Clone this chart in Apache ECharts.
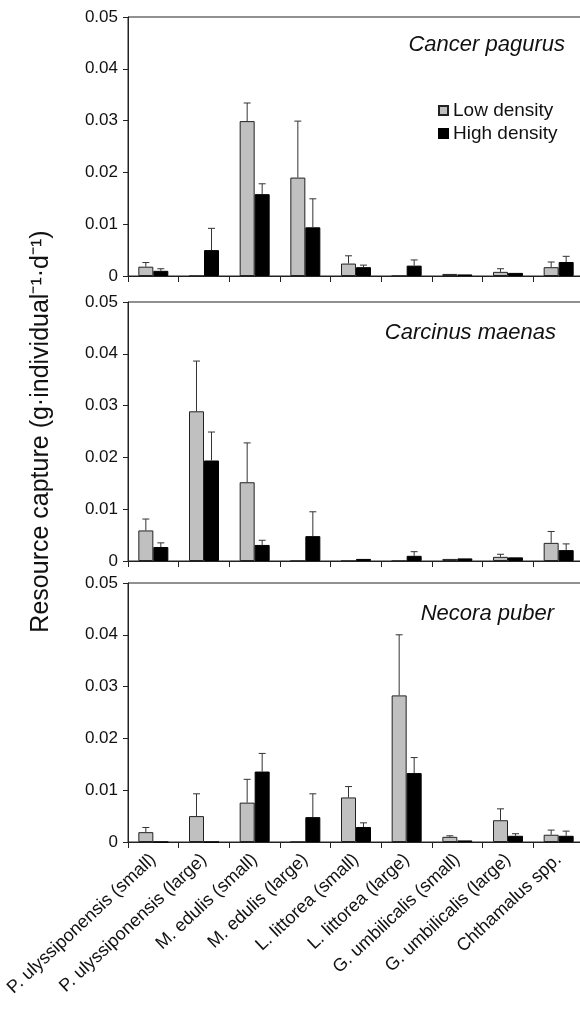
<!DOCTYPE html>
<html>
<head>
<meta charset="utf-8">
<script src="https://cdn.jsdelivr.net/npm/echarts@6/dist/echarts.min.js"></script>
<style>
  html, body { margin: 0; padding: 0; background: #fff; }
  #container { width: 580px; height: 1012px; }
</style>
</head>
<body>
<div id="container"></div>
<script>
// prey categories on the x axis
const categories = ['P. ulyssiponensis (small)', 'P. ulyssiponensis (large)', 'M. edulis (small)', 'M. edulis (large)',
    'L. littorea (small)', 'L. littorea (large)', 'G. umbilicalis (small)', 'G. umbilicalis (large)', 'Chthamalus spp.'];
const yTicks = [0, 0.01, 0.02, 0.03, 0.04, 0.05];

// Cancer pagurus (means and top of error bar)
const cpLow = [0.0018, 0, 0.0299, 0.0190, 0.0024, 0, 0.0004, 0.0008, 0.0017];
const cpLowUpper = [0.0026, null, 0.0334, 0.0299, 0.0039, null, null, 0.0014, 0.0027];
const cpHigh = [0.0010, 0.0050, 0.0158, 0.0094, 0.0017, 0.0020, 0.0003, 0.0006, 0.0027];
const cpHighUpper = [0.0014, 0.0092, 0.0178, 0.0149, 0.0021, 0.0031, null, null, 0.0038];

// Carcinus maenas
const cmLow = [0.0059, 0.0289, 0.0152, 0, 0, 0, 0.0004, 0.0008, 0.0035];
const cmLowUpper = [0.0081, 0.0386, 0.0228, null, null, null, null, 0.0013, 0.0057];
const cmHigh = [0.0027, 0.0194, 0.0031, 0.0048, 0.0004, 0.0010, 0.0005, 0.0007, 0.0021];
const cmHighUpper = [0.0035, 0.0249, 0.0040, 0.0095, null, 0.0018, null, null, 0.0033];

// Necora puber
const npLow = [0.0019, 0.0050, 0.0076, 0, 0.0086, 0.0283, 0.0010, 0.0042, 0.0014];
const npLowUpper = [0.0028, 0.0093, 0.0121, null, 0.0107, 0.0400, 0.0012, 0.0064, 0.0023];
const npHigh = [0, 0, 0.0136, 0.0048, 0.0029, 0.0133, 0.0003, 0.0012, 0.0012];
const npHighUpper = [null, null, 0.0171, 0.0093, 0.0037, 0.0163, null, 0.0016, 0.0021];

const panels = [
    { name: 'Cancer pagurus', low: cpLow, lowUp: cpLowUpper, high: cpHigh, highUp: cpHighUpper, top: 17, titleRight: 10, titleTop: 29 },
    { name: 'Carcinus maenas', low: cmLow, lowUp: cmLowUpper, high: cmHigh, highUp: cmHighUpper, top: 302, titleRight: 19, titleTop: 317 },
    { name: 'Necora puber', low: npLow, lowUp: npLowUpper, high: npHigh, highUp: npHighUpper, top: 583, titleRight: 21, titleTop: 598 }
];

const FONT = "'Liberation Sans', Arial, sans-serif";
const BAR_W = 15;

// error bar: vertical line from the bar top up to the upper value, with a small cap
const errorBar = (offset) => function (params, api) {
    const i = api.value(0);
    const base = api.coord([i, api.value(1)]);
    const top = api.coord([i, api.value(2)]);
    const x = base[0] + offset;
    const style = { stroke: '#333', lineWidth: 1 };
    return {
        type: 'group',
        children: [
            { type: 'line', shape: { x1: x, y1: base[1], x2: x, y2: top[1] }, style: style },
            { type: 'line', shape: { x1: x - 3.5, y1: top[1], x2: x + 3.5, y2: top[1] }, style: style }
        ]
    };
};
const errData = (vals, ups) => vals.map((v, i) => [i, v, ups[i]]).filter(d => d[2] != null);

const grids = [], xAxes = [], yAxes = [], series = [], titles = [];
panels.forEach((p, k) => {
    grids.push({ left: 128, width: 456, top: p.top, height: 259, show: true, borderColor: '#222', borderWidth: 1, outerBoundsMode: 'none', containLabel: false });
    xAxes.push({
        type: 'category', gridIndex: k, data: categories,
        axisLine: { lineStyle: { color: '#222', width: 1 } },
        axisTick: { show: true, inside: false, length: 6, interval: 0, lineStyle: { color: '#222' } },
        axisLabel: k === 2 ? { show: true, interval: 0, rotate: 43, margin: 15, padding: [32, 0, 0, 0], fontSize: 18, color: '#111', fontFamily: FONT } : { show: false },
        splitLine: { show: false }
    });
    yAxes.push({
        type: 'value', gridIndex: k, min: 0, max: 0.05, interval: 0.01,
        axisLine: { show: true, lineStyle: { color: '#222', width: 1 } },
        axisTick: { show: true, inside: false, length: 5, lineStyle: { color: '#222' } },
        axisLabel: { margin: 10, fontSize: 17, color: '#111', fontFamily: FONT, formatter: v => v === 0 ? '0' : v.toFixed(2) },
        splitLine: { show: false },
        name: k === 1 ? 'Resource capture (g·individual⁻¹·d⁻¹)' : '',
        nameLocation: 'middle', nameGap: 74, nameRotate: 90,
        nameTextStyle: { fontSize: 25, color: '#111', fontFamily: FONT }
    });
    titles.push({ text: p.name, right: p.titleRight, top: p.titleTop, textStyle: { fontSize: 22, fontStyle: 'italic', fontWeight: 'normal', color: '#111', fontFamily: FONT } });
    series.push({
        name: 'Low density', type: 'bar', xAxisIndex: k, yAxisIndex: k, data: p.low,
        barWidth: BAR_W, barGap: '0%',
        itemStyle: { color: '#c0c0c0', borderColor: '#222', borderWidth: 1 }
    });
    series.push({
        name: 'High density', type: 'bar', xAxisIndex: k, yAxisIndex: k, data: p.high,
        barWidth: BAR_W, barGap: '0%',
        itemStyle: { color: '#000', borderColor: '#000', borderWidth: 1 }
    });
    series.push({ name: 'errLow' + k, type: 'custom', xAxisIndex: k, yAxisIndex: k, data: errData(p.low, p.lowUp), renderItem: errorBar(-BAR_W / 2), z: 3 });
    series.push({ name: 'errHigh' + k, type: 'custom', xAxisIndex: k, yAxisIndex: k, data: errData(p.high, p.highUp), renderItem: errorBar(BAR_W / 2), z: 3 });
});

var dom = document.getElementById('container');
var myChart = echarts.init(dom, null, { renderer: 'canvas' });
myChart.setOption({
    animation: false,
    backgroundColor: '#fff',
    title: titles,
    legend: {
        data: ['Low density', 'High density'],
        orient: 'vertical', left: 438, top: 101, padding: 0,
        icon: 'rect', itemWidth: 9, itemHeight: 9, itemGap: 4, itemTextGap: 13,
        textStyle: { fontSize: 19, color: '#111', fontFamily: FONT, lineHeight: 19 }
    },
    grid: grids,
    xAxis: xAxes,
    yAxis: yAxes,
    series: series
});
</script>
</body>
</html>
